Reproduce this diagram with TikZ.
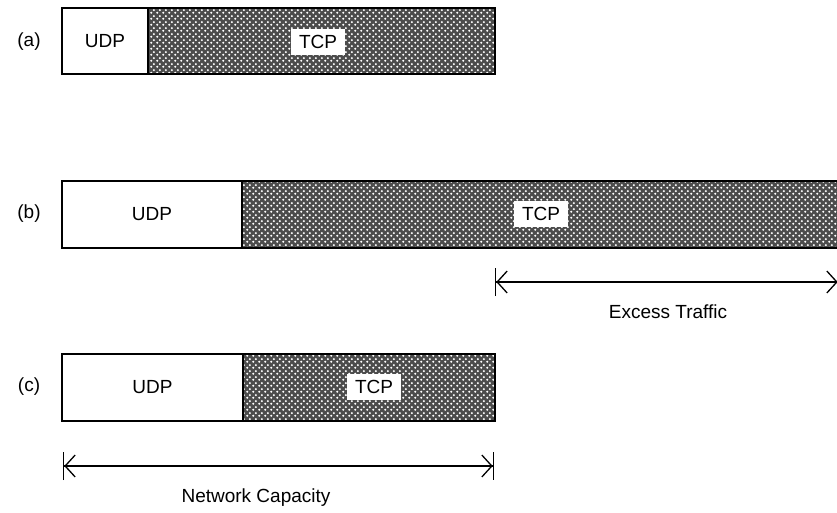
\documentclass[tikz,border=0pt]{standalone}
\usepackage{fontspec}
\setmainfont{Liberation Sans}
\usetikzlibrary{arrows.meta,patterns.meta}
\tikzdeclarepattern{
  name=hatchdots,
  type=uncolored,
  bottom left={(0pt,0pt)},
  top right={(6pt,6pt)},
  tile size={(6pt,6pt)},
  code={
    \fill (1.5pt,1.5pt) circle (1.3pt);
    \fill (4.5pt,4.5pt) circle (1.3pt);
  }
}
\begin{document}
\begin{tikzpicture}[x=1pt,y=-1pt,
  box/.style={draw=black, line width=1.6pt, anchor=north west, inner sep=0pt, outer sep=0pt},
  udpbox/.style={box, fill=white},
  tcpbox/.style={box, preaction={fill=black!70}, pattern=hatchdots, pattern color=white},
  lbl/.style={font=\fontsize{19}{22}\selectfont, inner sep=0pt},
  tcplbl/.style={lbl, fill=white, inner xsep=8pt, inner ysep=6pt},
  dim/.style={line width=1.3pt,
    {Bar[width=28pt,sep=0pt]Straight Barb[length=10pt,width=22pt,sep=0pt]}-{Straight Barb[length=10pt,width=22pt,sep=0pt]Bar[width=28pt,sep=0pt]}}
]
\useasboundingbox (0,0) rectangle (837,512);

% (a)
\node[udpbox, minimum width=86pt, minimum height=66pt] (audp) at (62,8) {};
\node[tcpbox, minimum width=347pt, minimum height=66pt] (atcp) at (148,8) {};
\node[lbl] (alab) at (29,42) {(a)};
\node[lbl] (audpt) at (audp.center) {UDP};
\node[tcplbl] (atcpt) at (318,42) {TCP};

% (b)
\node[udpbox, minimum width=180pt, minimum height=67pt] (budp) at (62,181) {};
\node[tcpbox, minimum width=620pt, minimum height=67pt] (btcp) at (242,181) {};
\node[lbl] (blab) at (29,214) {(b)};
\node[lbl] (budpt) at (budp.center) {UDP};
\node[tcplbl] (btcpt) at (541,214) {TCP};

\coordinate (exl) at (495,282);
\coordinate (exr) at (839,282);
\draw[dim] (exl) -- (exr);
\node[lbl] (ext) at (668,312) {Excess Traffic};

% (c)
\node[udpbox, minimum width=181pt, minimum height=67pt] (cudp) at (62,354) {};
\node[tcpbox, minimum width=252pt, minimum height=67pt] (ctcp) at (243,354) {};
\node[lbl] (clab) at (29,387) {(c)};
\node[lbl] (cudpt) at (cudp.center) {UDP};
\node[tcplbl] (ctcpt) at (374,387) {TCP};

\coordinate (ncl) at (63,466);
\coordinate (ncr) at (494,466);
\draw[dim] (ncl) -- (ncr);
\node[lbl] (nct) at (256,498) {Network Capacity};
\end{tikzpicture}
\end{document}
